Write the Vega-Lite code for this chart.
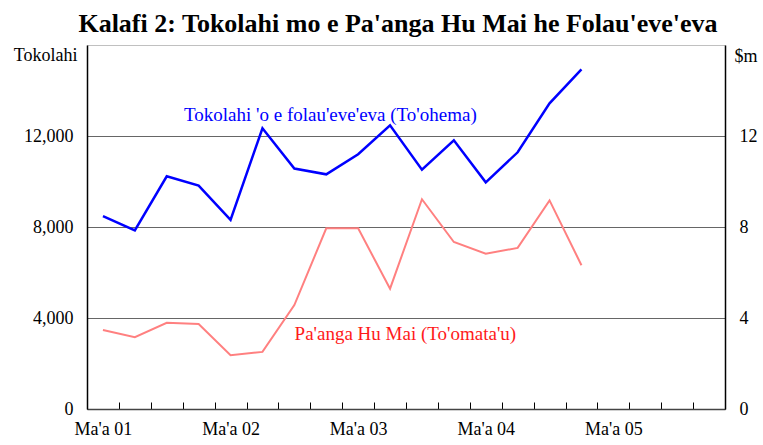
{
  "$schema": "https://vega.github.io/schema/vega-lite/v6.json",
  "autosize": "none",
  "width": 638,
  "height": 364,
  "padding": {"left": 87, "top": 45, "right": 38, "bottom": 36},
  "background": "white",
  "config": {
    "font": "Liberation Serif",
    "view": {"stroke": "#c0c0c0", "strokeWidth": 1},
    "axis": {"labelFont": "Liberation Serif", "titleFont": "Liberation Serif", "labelFontSize": 18, "titleFontSize": 18, "titleFontWeight": "normal", "labelColor": "black", "titleColor": "black"}
  },
  "title": {
    "text": "Kalafi 2: Tokolahi mo e Pa'anga Hu Mai he Folau'eve'eva",
    "font": "Liberation Serif",
    "fontSize": 26,
    "fontWeight": "bold",
    "color": "black",
    "anchor": "middle",
    "dx": -8,
    "offset": 8
  },
  "datasets": {
    "series": [
      {"quarter": 1, "period": "Mar 2001", "visitors": 8480, "receipts": 3.47},
      {"quarter": 2, "period": "Jun 2001", "visitors": 7850, "receipts": 3.16},
      {"quarter": 3, "period": "Sep 2001", "visitors": 10230, "receipts": 3.79},
      {"quarter": 4, "period": "Dec 2001", "visitors": 9820, "receipts": 3.74},
      {"quarter": 5, "period": "Mar 2002", "visitors": 8310, "receipts": 2.36},
      {"quarter": 6, "period": "Jun 2002", "visitors": 12340, "receipts": 2.51},
      {"quarter": 7, "period": "Sep 2002", "visitors": 10570, "receipts": 4.57},
      {"quarter": 8, "period": "Dec 2002", "visitors": 10316, "receipts": 7.94},
      {"quarter": 9, "period": "Mar 2003", "visitors": 11196, "receipts": 7.94},
      {"quarter": 10, "period": "Jun 2003", "visitors": 12470, "receipts": 5.29},
      {"quarter": 11, "period": "Sep 2003", "visitors": 10521, "receipts": 9.22},
      {"quarter": 12, "period": "Dec 2003", "visitors": 11811, "receipts": 7.34},
      {"quarter": 13, "period": "Mar 2004", "visitors": 9965, "receipts": 6.83},
      {"quarter": 14, "period": "Jun 2004", "visitors": 11284, "receipts": 7.08},
      {"quarter": 15, "period": "Sep 2004", "visitors": 13437, "receipts": 9.17},
      {"quarter": 16, "period": "Dec 2004", "visitors": 14932, "receipts": 6.32}
    ],
    "blueLabel": [{"quarter": 8.13, "visitors": 12923, "label": "Tokolahi 'o e folau'eve'eva (To'ohema)"}],
    "redLabel": [{"quarter": 10.48, "receipts": 3.3, "label": "Pa'anga Hu Mai (To'omata'u)"}]
  },
  "encoding": {
    "x": {
      "field": "quarter",
      "type": "quantitative",
      "scale": {"domain": [0.5, 20.5], "nice": false, "zero": false},
      "axis": {
        "title": null,
        "grid": false,
        "values": [1, 5, 9, 13, 17, 1.5, 2.5, 3.5, 4.5, 5.5, 6.5, 7.5, 8.5, 9.5, 10.5, 11.5, 12.5, 13.5, 14.5, 15.5, 16.5, 17.5, 18.5, 19.5],
        "labelExpr": "datum.value % 1 === 0 ? \"Ma'a 0\" + ((datum.value - 1) / 4 + 1) : ''",
        "tickOpacity": {"condition": {"test": "datum.value % 1 === 0", "value": 0}, "value": 1},
        "tickSize": -7,
        "tickColor": "black",
        "tickWidth": 1,
        "domainColor": "#444",
        "domainWidth": 1.5,
        "labelPadding": 18,
        "labelFlush": false,
        "labelOverlap": false
      }
    }
  },
  "layer": [
    {
      "encoding": {
        "y": {
          "field": "visitors",
          "type": "quantitative",
          "scale": {"domain": [0, 16000], "nice": false},
          "axis": {
            "orient": "left",
            "values": [0, 4000, 8000, 12000],
            "format": ",d",
            "grid": true,
            "gridColor": "#666",
            "gridWidth": 1,
            "ticks": false,
            "domainColor": "black",
            "domainWidth": 1.5,
            "labelPadding": 14,
            "title": "Tokolahi",
            "titleAngle": 0,
            "titleAlign": "right",
            "titleBaseline": "middle",
            "titleX": -10,
            "titleY": 10
          }
        }
      },
      "layer": [
        {"data": {"name": "series"}, "mark": {"type": "line", "color": "#0000ff", "strokeWidth": 2.5}},
        {"data": {"name": "blueLabel"}, "mark": {"type": "text", "color": "#0000ff", "fontSize": 19, "font": "Liberation Serif", "align": "center", "baseline": "middle"}, "encoding": {"text": {"field": "label"}}}
      ]
    },
    {
      "encoding": {
        "y": {
          "field": "receipts",
          "type": "quantitative",
          "scale": {"domain": [0, 16], "nice": false},
          "axis": {
            "orient": "right",
            "values": [0, 4, 8, 12],
            "grid": false,
            "ticks": false,
            "domainColor": "black",
            "domainWidth": 1.5,
            "labelPadding": 14,
            "title": "$m",
            "titleAngle": 0,
            "titleAlign": "left",
            "titleBaseline": "middle",
            "titleX": 9,
            "titleY": 11
          }
        }
      },
      "layer": [
        {"data": {"name": "series"}, "mark": {"type": "line", "color": "#ff8080", "strokeWidth": 2}},
        {"data": {"name": "redLabel"}, "mark": {"type": "text", "color": "#ff1a1a", "fontSize": 19, "font": "Liberation Serif", "align": "center", "baseline": "middle"}, "encoding": {"text": {"field": "label"}}}
      ]
    }
  ],
  "resolve": {"scale": {"y": "independent"}}
}
